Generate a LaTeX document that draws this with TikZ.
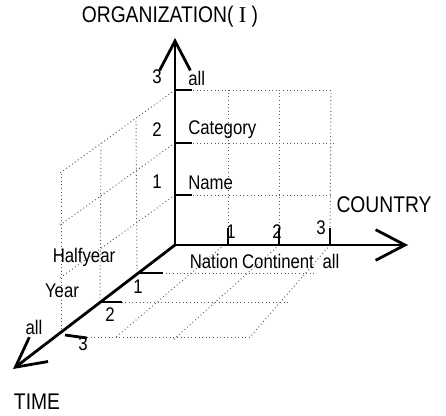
\documentclass[tikz,border=0pt]{standalone}
\usepackage{fontspec}
\setmainfont[FakeStretch=0.85]{Liberation Sans}
\newfontfamily\romanI{Liberation Serif}
\usetikzlibrary{arrows.meta,positioning}

\begin{document}
\begin{tikzpicture}[x=0.75pt, y=-0.75pt,
  every node/.style={inner sep=0pt, font=\fontsize{14.8}{16}\selectfont},
  title/.style={font=\fontsize{17}{19}\selectfont},
  axis/.style={line width=2.1pt, -{Straight Barb[length=22pt,width=23pt]}},
  tickmark/.style={line width=2.1pt},
  gridline/.style={dotted, line width=0.7pt, black!65}]
  \useasboundingbox (0,0) rectangle (446,415);

  % axes end points
  \coordinate (O) at (175,245);
  \coordinate (orgtip) at (175,38);
  \coordinate (ctytip) at (408,245);
  \coordinate (timetip) at (13,369);

  % level points on the axes
  \coordinate (o1) at (175,195);
  \coordinate (o2) at (175,143);
  \coordinate (o3) at (175,90);
  \coordinate (c1) at (228,245);
  \coordinate (c2) at (279,245);
  \coordinate (c3) at (330,245);
  \coordinate (t1) at (137,273);
  \coordinate (t2) at (100,302);
  \coordinate (t3) at (61,333);

  % back wall
  \draw[gridline] (o1) -- (332,195);
  \draw[gridline] (o2) -- (334,143);
  \draw[gridline] (o3) -- (332,90);
  \draw[gridline] (c1) -- (228,90);
  \draw[gridline] (c2) -- (279,90);
  \draw[gridline] (c3) -- (331,90);

  % left wall
  \draw[gridline] (o1) -- (60,278);
  \draw[gridline] (o2) -- (60,225);
  \draw[gridline] (o3) -- (60,173);
  \draw[gridline] (t1) -- (136,118);
  \draw[gridline] (t2) -- (101,143);
  \draw[gridline] (t3) -- (61,173);

  % floor
  \draw[gridline] (t1) -- (315,273);
  \draw[gridline] (t2) -- (290,302);
  \draw[gridline] (87,337) -- (250,337);
  \draw[gridline] (224,245) -- (115,338);
  \draw[gridline] (c2) -- (173,340);
  \draw[gridline] (c3) -- (250,337);

  % axes
  \draw[axis] (O) -- (orgtip);
  \draw[axis] (O) -- (ctytip);
  \draw[axis] (O) -- (timetip);

  % ticks
  \foreach \p in {o1,o2,o3}
    \draw[tickmark] (\p) -- ++(17,0);
  \foreach \p in {c1,c2,c3}
    \draw[tickmark] (\p) -- ++(0,-17);
  \draw[tickmark] (t1) -- ++(26,0);
  \draw[tickmark] (t2) -- ++(22,0);
  \draw[tickmark] (65,335) -- (87,338);

  % axis titles
  \node[title] (orgtitle) at (170,17) {ORGANIZATION( {\romanI I} )};
  \node[title] (ctytitle) at (384,205) {COUNTRY};
  \node[title] (timetitle) at (37,402) {TIME};

  % organization levels
  \node (on1) at (157,182) {1};
  \node (on2) at (157,130) {2};
  \node (on3) at (157,77) {3};
  \node[anchor=west] (ol1) at (188,183) {Name};
  \node[anchor=west] (ol2) at (188,130) {Category};
  \node[anchor=west] (ol3) at (188,78) {all};

  % country levels
  \node (cn1) at (231,232) {1};
  \node (cn2) at (277,232) {2};
  \node (cn3) at (321,228) {3};
  \node (cl1) at (214,261) {Nation};
  \node (cl2) at (278,261) {Continent};
  \node (cl3) at (331,261) {all};

  % time levels
  \node (tn1) at (138,287) {1};
  \node (tn2) at (110,315) {2};
  \node (tn3) at (83,344) {3};
  \node (tl1) at (84,257) {Halfyear};
  \node (tl2) at (62,291) {Year};
  \node (tl3) at (34,327) {all};
\end{tikzpicture}
\end{document}
